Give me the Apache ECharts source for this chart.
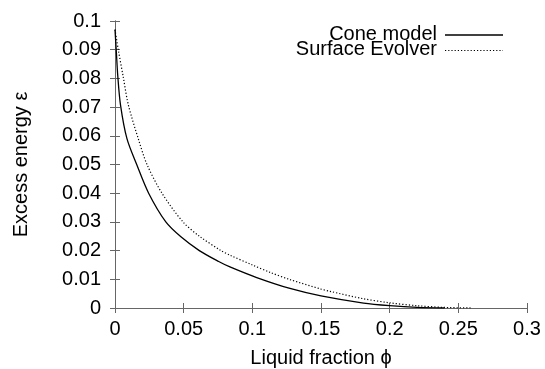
<!DOCTYPE html>
<html>
<head>
<meta charset="utf-8">
<script src="https://cdn.jsdelivr.net/npm/echarts@6/dist/echarts.min.js"></script>
<style>
html,body{margin:0;padding:0;background:#fff;}
#c{width:545px;height:369px;}
</style>
</head>
<body>
<div id="c"></div>
<script>
var seriesNames = ['Cone model', 'Surface Evolver'];
var xTitle = 'Liquid fraction \u03d5';
var yTitle = 'Excess energy \u03b5';

var coneX = [0, 0.001, 0.002, 0.004, 0.0087, 0.0158, 0.0245, 0.037, 0.048, 0.0614, 0.0755, 0.0837, 0.1032, 0.1274, 0.15, 0.181, 0.2, 0.22, 0.24];
var coneY = [0.097, 0.089, 0.081, 0.0708, 0.059, 0.050, 0.040, 0.030, 0.0248, 0.020, 0.0162, 0.0143, 0.0106, 0.0068, 0.0042, 0.0017, 0.0008, 0.0002, 0.0];

var seX = [0, 0.0024, 0.006, 0.0097, 0.0172, 0.0233, 0.0342, 0.0495, 0.0615, 0.0772, 0.0837, 0.1, 0.113, 0.1274, 0.15, 0.1566, 0.18, 0.2, 0.22, 0.24, 0.26];
var seY = [0.097, 0.090, 0.0805, 0.0708, 0.0586, 0.050, 0.040, 0.030, 0.025, 0.020, 0.0184, 0.0150, 0.0124, 0.0099, 0.0066, 0.0058, 0.0033, 0.0018, 0.0008, 0.0002, 0.0];

function pairs(xs, ys) { return xs.map(function (x, i) { return [x, ys[i]]; }); }

var FONT = '"Liberation Sans", Arial, Helvetica, sans-serif';
var FS = 20;
var AX = '#666';
var fmt = function (v) { return String(+v.toFixed(2)); };

var chart = echarts.init(document.getElementById('c'), null, {renderer: 'canvas'});
var option = {
  animation: false,
  backgroundColor: '#fff',
  grid: {left: 115, right: 18, top: 21, bottom: 61, containLabel: false, outerBoundsMode: 'none'},
  xAxis: [{
    type: 'value', min: 0, max: 0.3, interval: 0.05,
    name: xTitle, nameLocation: 'middle', nameGap: 40,
    nameTextStyle: {fontFamily: FONT, fontSize: FS, color: '#000'},
    axisLine: {show: true, lineStyle: {color: AX, width: 1}},
    axisTick: {show: true, inside: true, length: 5, lineStyle: {color: AX}},
    axisLabel: {fontFamily: FONT, fontSize: FS, color: '#000', margin: 11, formatter: fmt},
    splitLine: {show: false}
  }, {
    type: 'value', min: 0, max: 0.3, interval: 0.05, position: 'top',
    axisLine: {show: true, lineStyle: {color: AX, width: 1}},
    axisTick: {show: true, inside: true, length: 5, lineStyle: {color: AX}},
    axisLabel: {show: false}, splitLine: {show: false}
  }],
  yAxis: [{
    type: 'value', min: 0, max: 0.1, interval: 0.01,
    name: yTitle, nameLocation: 'middle', nameGap: 84,
    nameTextStyle: {fontFamily: FONT, fontSize: FS, color: '#000'},
    axisLine: {show: true, lineStyle: {color: AX, width: 1}},
    axisTick: {show: true, inside: true, length: 5, lineStyle: {color: AX}},
    axisLabel: {fontFamily: FONT, fontSize: FS, color: '#000', margin: 14, formatter: fmt},
    splitLine: {show: false}
  }, {
    type: 'value', min: 0, max: 0.1, interval: 0.01, position: 'right',
    axisLine: {show: true, lineStyle: {color: AX, width: 1}},
    axisTick: {show: true, inside: true, length: 5, lineStyle: {color: AX}},
    axisLabel: {show: false}, splitLine: {show: false}
  }],
  series: [{
    name: seriesNames[0], type: 'line', data: pairs(coneX, coneY),
    smooth: 0.3, symbol: 'none', lineStyle: {color: '#000', width: 1.3, type: 'solid'}
  }, {
    name: seriesNames[1], type: 'line', data: pairs(seX, seY),
    smooth: 0.3, symbol: 'none', lineStyle: {color: '#000', width: 1.2, type: [1.2, 2]}
  }],
  graphic: [
    {type: 'text', right: 545 - 437, top: 24, style: {text: seriesNames[0], font: FS + 'px ' + FONT, fill: '#000', textAlign: 'right'}},
    {type: 'line', shape: {x1: 445, y1: 35, x2: 503, y2: 35}, style: {stroke: '#000', lineWidth: 1.3}},
    {type: 'text', right: 545 - 437, top: 39, style: {text: seriesNames[1], font: FS + 'px ' + FONT, fill: '#000', textAlign: 'right'}},
    {type: 'line', shape: {x1: 445, y1: 50.5, x2: 503, y2: 50.5}, style: {stroke: '#000', lineWidth: 1.2, lineDash: [1.2, 2]}}
  ]
};
chart.setOption(option);
</script>
</body>
</html>
